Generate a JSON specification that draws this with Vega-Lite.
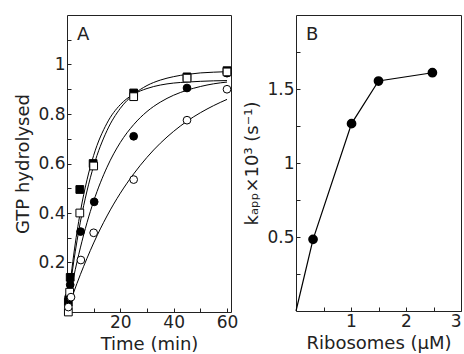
{
  "$schema": "https://vega.github.io/schema/vega-lite/v6.json",
  "padding": {"left": 14, "top": 14, "right": 4, "bottom": 0},
  "config": {
    "view": {"stroke": "#222", "strokeWidth": 1},
    "font": "DejaVu Sans",
    "axis": {"grid": false, "domain": false, "tickColor": "#222", "tickSize": -4, "tickWidth": 1, "labelPadding": 6, "labelFont": "DejaVu Sans", "labelFontSize": 17, "labelColor": "#222", "titleFont": "DejaVu Sans", "titleFontSize": 18, "titleFontWeight": "normal", "titleColor": "#222", "titlePadding": 5},
    "title": {"anchor": "start", "frame": "group", "offset": -29, "baseline": "middle", "fontSize": 18, "fontWeight": "normal", "font": "DejaVu Sans", "color": "#222"},
    "concat": {"spacing": 4}
  },
  "datasets": {
    "pointsA": [
      {"series": "filled square", "t": 0.5, "y": 0.04},
      {"series": "filled square", "t": 1.2, "y": 0.14},
      {"series": "filled square", "t": 4.8, "y": 0.495},
      {"series": "filled square", "t": 9.8, "y": 0.60},
      {"series": "filled square", "t": 25, "y": 0.885},
      {"series": "filled square", "t": 45, "y": 0.95},
      {"series": "filled square", "t": 60, "y": 0.975},
      {"series": "filled circle", "t": 0.6, "y": 0.06},
      {"series": "filled circle", "t": 1.2, "y": 0.11},
      {"series": "filled circle", "t": 5.1, "y": 0.325},
      {"series": "filled circle", "t": 10.2, "y": 0.445},
      {"series": "filled circle", "t": 25, "y": 0.71},
      {"series": "filled circle", "t": 45, "y": 0.905},
      {"series": "filled circle", "t": 60, "y": 0.965},
      {"series": "open square", "t": 0.5, "y": 0.0},
      {"series": "open square", "t": 1.0, "y": 0.08},
      {"series": "open square", "t": 4.8, "y": 0.40},
      {"series": "open square", "t": 10, "y": 0.59},
      {"series": "open square", "t": 25, "y": 0.87},
      {"series": "open square", "t": 45, "y": 0.945},
      {"series": "open square", "t": 60, "y": 0.97},
      {"series": "open circle", "t": 0.5, "y": 0.02},
      {"series": "open circle", "t": 1.5, "y": 0.06},
      {"series": "open circle", "t": 5.2, "y": 0.21},
      {"series": "open circle", "t": 10, "y": 0.32},
      {"series": "open circle", "t": 25, "y": 0.535},
      {"series": "open circle", "t": 45, "y": 0.775},
      {"series": "open circle", "t": 60, "y": 0.90}
    ],
    "curvesA": [
      {"curve": "fast", "t": 0, "y": 0}, {"curve": "fast", "t": 2.5, "y": 0.230}, {"curve": "fast", "t": 5, "y": 0.404}, {"curve": "fast", "t": 7.5, "y": 0.534}, {"curve": "fast", "t": 10, "y": 0.633}, {"curve": "fast", "t": 15, "y": 0.763}, {"curve": "fast", "t": 20, "y": 0.838}, {"curve": "fast", "t": 25, "y": 0.880}, {"curve": "fast", "t": 30, "y": 0.903}, {"curve": "fast", "t": 35, "y": 0.917}, {"curve": "fast", "t": 40, "y": 0.925}, {"curve": "fast", "t": 45, "y": 0.929}, {"curve": "fast", "t": 50, "y": 0.932}, {"curve": "fast", "t": 55, "y": 0.934}, {"curve": "fast", "t": 60, "y": 0.935},
      {"curve": "high", "t": 0, "y": 0}, {"curve": "high", "t": 2.5, "y": 0.202}, {"curve": "high", "t": 5, "y": 0.363}, {"curve": "high", "t": 7.5, "y": 0.489}, {"curve": "high", "t": 10, "y": 0.590}, {"curve": "high", "t": 15, "y": 0.733}, {"curve": "high", "t": 20, "y": 0.823}, {"curve": "high", "t": 25, "y": 0.879}, {"curve": "high", "t": 30, "y": 0.915}, {"curve": "high", "t": 35, "y": 0.937}, {"curve": "high", "t": 40, "y": 0.951}, {"curve": "high", "t": 45, "y": 0.960}, {"curve": "high", "t": 50, "y": 0.966}, {"curve": "high", "t": 55, "y": 0.969}, {"curve": "high", "t": 60, "y": 0.971},
      {"curve": "mid", "t": 0, "y": 0}, {"curve": "mid", "t": 2.5, "y": 0.141}, {"curve": "mid", "t": 5, "y": 0.259}, {"curve": "mid", "t": 7.5, "y": 0.361}, {"curve": "mid", "t": 10, "y": 0.448}, {"curve": "mid", "t": 15, "y": 0.585}, {"curve": "mid", "t": 20, "y": 0.685}, {"curve": "mid", "t": 25, "y": 0.757}, {"curve": "mid", "t": 30, "y": 0.810}, {"curve": "mid", "t": 35, "y": 0.848}, {"curve": "mid", "t": 40, "y": 0.876}, {"curve": "mid", "t": 45, "y": 0.896}, {"curve": "mid", "t": 50, "y": 0.911}, {"curve": "mid", "t": 55, "y": 0.922}, {"curve": "mid", "t": 60, "y": 0.929},
      {"curve": "slow", "t": 0, "y": 0}, {"curve": "slow", "t": 2.5, "y": 0.079}, {"curve": "slow", "t": 5, "y": 0.151}, {"curve": "slow", "t": 7.5, "y": 0.217}, {"curve": "slow", "t": 10, "y": 0.279}, {"curve": "slow", "t": 15, "y": 0.388}, {"curve": "slow", "t": 20, "y": 0.480}, {"curve": "slow", "t": 25, "y": 0.558}, {"curve": "slow", "t": 30, "y": 0.625}, {"curve": "slow", "t": 35, "y": 0.682}, {"curve": "slow", "t": 40, "y": 0.730}, {"curve": "slow", "t": 45, "y": 0.771}, {"curve": "slow", "t": 50, "y": 0.805}, {"curve": "slow", "t": 55, "y": 0.834}, {"curve": "slow", "t": 60, "y": 0.859}
    ],
    "dataB": [
      {"ribosomes": 0, "k": 0},
      {"ribosomes": 0.31, "k": 0.484},
      {"ribosomes": 1.01, "k": 1.266},
      {"ribosomes": 1.5, "k": 1.554},
      {"ribosomes": 2.48, "k": 1.61}
    ]
  },
  "hconcat": [
    {
      "width": 164,
      "height": 297,
      "title": {"text": "A", "dx": 10},
      "encoding": {
        "x": {"field": "t", "type": "quantitative", "scale": {"domain": [0, 61.5], "nice": false, "zero": false},
              "axis": {"title": "Time (min)", "values": [10, 20, 30, 40, 50, 60], "labelExpr": "datum.value==20?'20':datum.value==40?'40':datum.value==60?'60':''"}},
        "y": {"field": "y", "type": "quantitative", "scale": {"domain": [0, 1.2], "nice": false, "zero": false},
              "axis": {"title": "GTP hydrolysed", "values": [0.1, 0.2, 0.3, 0.4, 0.5, 0.6, 0.7, 0.8, 0.9, 1, 1.1], "labelExpr": "datum.value==0.2?'0.2':datum.value==0.4?'0.4':datum.value==0.6?'0.6':datum.value==0.8?'0.8':datum.value==1?'1':''"}}
      },
      "layer": [
        {
          "data": {"name": "curvesA"},
          "mark": {"type": "line", "color": "black", "strokeWidth": 1, "interpolate": "monotone"},
          "encoding": {"detail": {"field": "curve"}}
        },
        {
          "data": {"name": "pointsA"},
          "mark": {"type": "point", "filled": true, "stroke": "black", "strokeWidth": 1, "opacity": 1},
          "encoding": {
            "shape": {"field": "series", "scale": {"domain": ["filled square", "open square", "filled circle", "open circle"], "range": ["square", "square", "circle", "circle"]}, "legend": null},
            "fill": {"field": "series", "scale": {"domain": ["filled square", "open square", "filled circle", "open circle"], "range": ["black", "white", "black", "white"]}, "legend": null},
            "size": {"value": 60}
          }
        }
      ]
    },
    {
      "width": 165,
      "height": 296,
      "title": {"text": "B", "dx": 10},
      "encoding": {
        "x": {"field": "ribosomes", "type": "quantitative", "scale": {"domain": [0, 3], "nice": false, "zero": false},
              "axis": {"title": "Ribosomes (μM)", "values": [0.5, 1, 1.5, 2, 2.5, 3], "labelExpr": "datum.value==1?'1':datum.value==2?'2':datum.value==3?'3':''"}},
        "y": {"field": "k", "type": "quantitative", "scale": {"domain": [0, 2], "nice": false, "zero": false},
              "axis": {"title": "kₐₚₚ×10³ (s⁻¹)", "values": [0.25, 0.5, 0.75, 1, 1.25, 1.5, 1.75], "labelExpr": "datum.value==0.5?'0.5':datum.value==1?'1':datum.value==1.5?'1.5':''"}}
      },
      "layer": [
        {
          "data": {"name": "dataB"},
          "mark": {"type": "line", "color": "black", "strokeWidth": 1.2},
          "encoding": {}
        },
        {
          "data": {"name": "dataB"},
          "transform": [{"filter": "datum.ribosomes > 0"}],
          "mark": {"type": "point", "filled": true, "shape": "circle", "fill": "black", "stroke": "black", "opacity": 1, "size": 60},
          "encoding": {}
        }
      ]
    }
  ]
}
